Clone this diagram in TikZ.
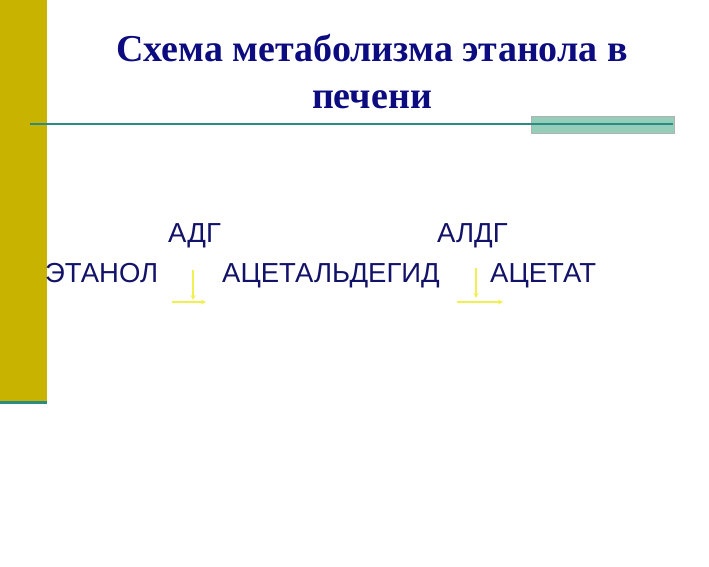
\documentclass[tikz,border=0pt]{standalone}
\usepackage{fontspec}
\setmainfont{Liberation Serif}
\setsansfont{Liberation Sans}
\usepackage{tikz}
\usetikzlibrary{arrows,positioning}

\definecolor{barolive}{HTML}{C8B400}
\definecolor{lineteal}{HTML}{2A8C82}
\definecolor{boxteal}{HTML}{94CDB8}
\definecolor{titlenavy}{HTML}{0C0C80}
\definecolor{textnavy}{HTML}{121268}
\definecolor{arrowyellow}{HTML}{F0F050}

\begin{document}
\begin{tikzpicture}[
    x=1pt, y=-1pt,
    title/.style={font=\fontsize{38}{44}\selectfont\bfseries\rmfamily, text=titlenavy, inner sep=0pt, anchor=base},
    word/.style={font=\fontsize{27.5}{30}\selectfont\sffamily, text=textnavy, inner sep=0pt, anchor=base west},
    arrow/.style={->, >=stealth, arrowyellow, line width=1.2pt}
]
    \useasboundingbox (0,0) rectangle (709,567);
    % background bar and rules
    \fill[barolive] (0,0) rectangle (47,401);
    \fill[lineteal] (0,401) rectangle (47,404);
    \fill[boxteal, draw=gray!60] (531,116) rectangle (674,133);
    \draw[lineteal, line width=2pt] (30,124) -- (673,124);

    \node[title] (heading) at (372,62) {Схема метаболизма этанола в};
    \node[title] (headingcont) at (372,109) {печени};

    \node[word] (adh) at (168,242) {АДГ};
    \node[word] (aldh) at (437,242) {АЛДГ};
    \node[word] (ethanol) at (45,282) {ЭТАНОЛ};
    \node[word] (acetaldehyde) at (222,282) {АЦЕТАЛЬДЕГИД};
    \node[word] (acetate) at (490,282) {АЦЕТАТ};

    \coordinate (a1) at (193,270);
    \coordinate (a2) at (193,300);
    \coordinate (a3) at (172,302);
    \coordinate (a4) at (206,302);
    \coordinate (b1) at (476,268);
    \coordinate (b2) at (476,298);
    \coordinate (b3) at (457,302);
    \coordinate (b4) at (503,302);

    \draw[arrow] (a1) -- (a2);
    \draw[arrow] (a3) -- (a4);
    \draw[arrow] (b1) -- (b2);
    \draw[arrow] (b3) -- (b4);
\end{tikzpicture}
\end{document}
